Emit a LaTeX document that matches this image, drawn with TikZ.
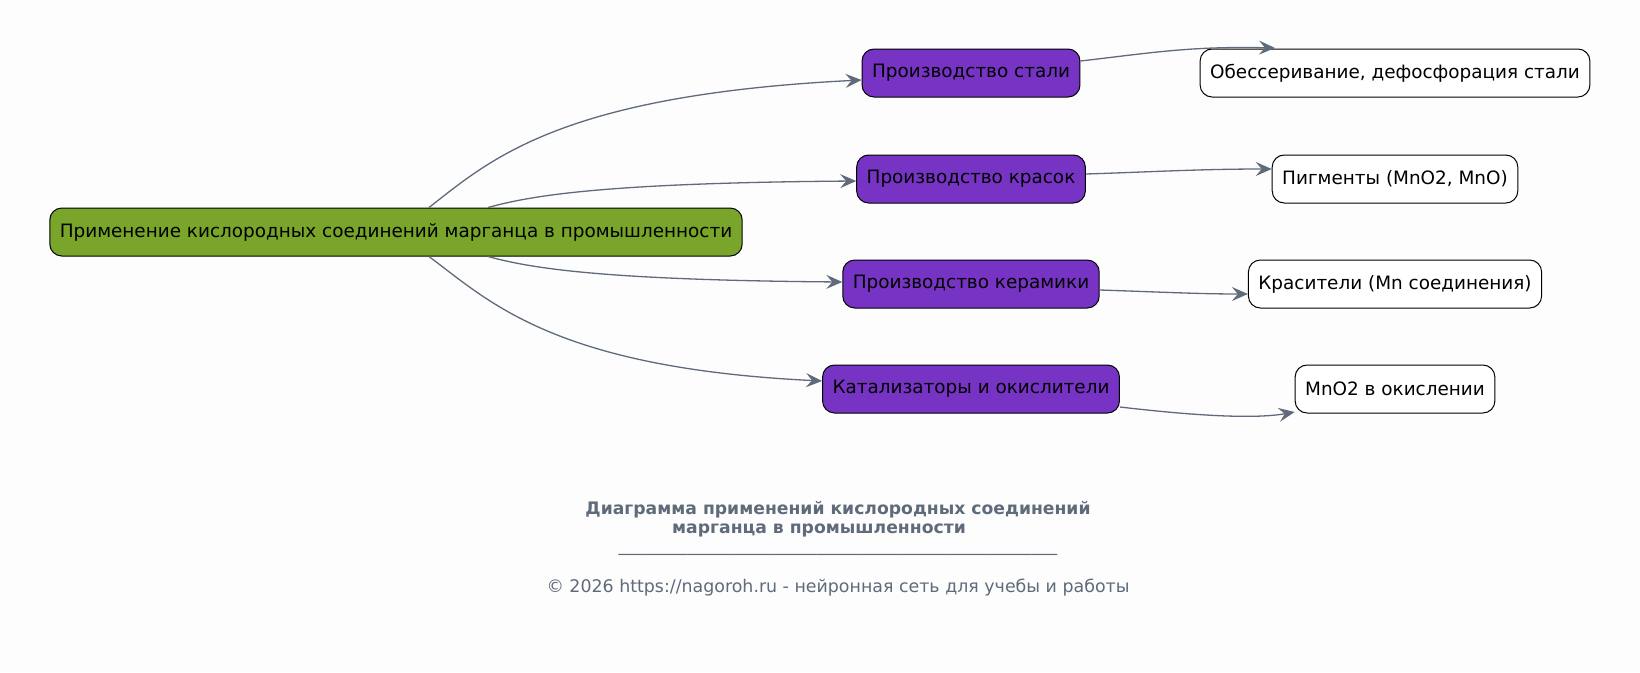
\documentclass[tikz,border=0pt]{standalone}
\usepackage{fontspec}
\setmainfont{DejaVu Sans}
\usetikzlibrary{arrows.meta}

\definecolor{bgcol}{HTML}{FDFDFD}
\definecolor{rootgreen}{HTML}{78A52A}
\definecolor{appviolet}{HTML}{7734C4}
\definecolor{edgegray}{HTML}{5F6B7A}

\begin{document}
\begin{tikzpicture}[x=1pt,y=-1pt,
  box/.style={draw=black,line width=1pt,rounded corners=12pt,minimum height=48pt,inner xsep=10pt,
    font=\fontsize{18.4}{22}\selectfont},
  rootbox/.style={box,fill=rootgreen},
  appbox/.style={box,fill=appviolet},
  usebox/.style={box,fill=white},
  link/.style={draw=edgegray,line width=1.3pt,-{Stealth[length=16pt,width=14pt,inset=6pt]}},
  note/.style={text=edgegray,align=center}]

  \fill[bgcol] (0,0) rectangle (1640,672);

  % main node
  \node[rootbox] (mn) at (396,232) {Применение кислородных соединений марганца в промышленности};

  % areas of use
  \node[appbox] (steel) at (971,73) {Производство стали};
  \node[appbox] (paint) at (971,179) {Производство красок};
  \node[appbox] (ceram) at (971,284) {Производство керамики};
  \node[appbox] (catal) at (971,389) {Катализаторы и окислители};

  % details
  \node[usebox] (desulf) at (1395,73) {Обессеривание, дефосфорация стали};
  \node[usebox] (pigm) at (1395,179) {Пигменты (MnO2, MnO)};
  \node[usebox] (dyes) at (1395,284) {Красители (Mn соединения)};
  \node[usebox] (oxid) at (1395,389) {MnO2 в окислении};

  \coordinate (desulftop) at (1275,48);

  \draw[link] ([xshift=33pt]mn.north) .. controls (490,160) and (560,95) .. ([yshift=-7pt]steel.west);
  \draw[link] ([xshift=92pt]mn.north) .. controls (530,196) and (600,183) .. ([yshift=-2pt]paint.west);
  \draw[link] ([xshift=92pt]mn.south) .. controls (530,268) and (600,280) .. ([yshift=2pt]ceram.west);
  \draw[link] ([xshift=33pt]mn.south) .. controls (490,302) and (555,368) .. ([yshift=8pt]catal.west);

  \draw[link] ([yshift=12pt]steel.east) .. controls (1150,53) and (1190,46) .. (desulftop);
  \draw[link] ([yshift=5pt]paint.east) .. controls (1150,172) and (1200,169) .. ([yshift=10pt]pigm.west);
  \draw[link] ([yshift=-6pt]ceram.east) .. controls (1160,292) and (1200,294) .. ([yshift=-10pt]dyes.west);
  \draw[link] ([yshift=-18pt]catal.east) .. controls (1180,414) and (1250,420) .. ([yshift=-23pt]oxid.west);

  % caption
  \node[note,font=\bfseries\fontsize{17.2}{19}\selectfont] (title) at (838,519)
    {Диаграмма применений кислородных соединений\\марганца в промышленности\hspace*{38pt}};
  \node[note,font=\fontsize{17.2}{19}\selectfont] (rule) at (838,554)
    {\foreach \i in {1,...,51}{\_}};
  \node[note,font=\fontsize{17.4}{19}\selectfont] (copy) at (838,588)
    {© 2026 https://nagoroh.ru - нейронная сеть для учебы и работы};
\end{tikzpicture}
\end{document}
